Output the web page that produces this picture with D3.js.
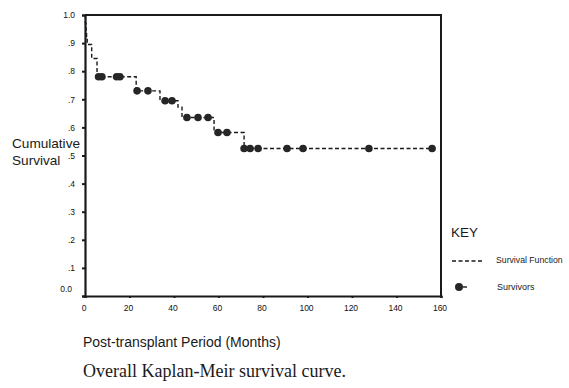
<!DOCTYPE html>
<html>
<head>
<meta charset="utf-8">
<script src="https://cdn.jsdelivr.net/npm/d3@7"></script>
<style>
  html, body { margin: 0; padding: 0; background: #ffffff; }
  svg { display: block; }
  .sans { font-family: "Liberation Sans", Arial, Helvetica, sans-serif; }
  .serif { font-family: "Liberation Serif", "Times New Roman", serif; }
</style>
</head>
<body>
<svg id="chart" width="569" height="388"></svg>
<script>
// ---- Data ----
const stepTimes    = [0, 0.2, 0.45, 0.7, 1.0, 3.0, 5.4, 23.0, 33.7, 41.8, 43.6, 58.0, 71.5, 156.0];
const stepSurvival = [1.0, 0.97, 0.94, 0.92, 0.895, 0.845, 0.78, 0.73, 0.695, 0.672, 0.635, 0.582, 0.525, 0.525];
const censorTimes  = [6.1, 7.6, 14.2, 15.7, 23.4, 28.3, 36.0, 39.1, 45.8, 50.8, 55.3, 59.8, 63.8, 71.5, 74.2, 77.8, 90.8, 98.0, 127.6, 156.0];
const xTicks = [0, 20, 40, 60, 80, 100, 120, 140, 160];
const yTicks = [0, 0.1, 0.2, 0.3, 0.4, 0.5, 0.6, 0.7, 0.8, 0.9, 1.0];
const yTickLabels = ["0.0", ".1", ".2", ".3", ".4", ".5", ".6", ".7", ".8", ".9", "1.0"];
const yTitle = ["Cumulative", "Survival"];
const xTitle = "Post-transplant Period (Months)";
const caption = "Overall Kaplan-Meir survival curve.";
const legendTitle = "KEY";
const legendItems = ["Survival Function", "Survivors"];

// ---- Layout ----
const plot = { left: 85, right: 441, top: 15, bottom: 296 };
const ink = "#1a1a1a";

const svg = d3.select("#chart");
const x = d3.scaleLinear().domain([0, 160]).range([plot.left, plot.right]);
const y = d3.scaleLinear().domain([0, 1]).range([plot.bottom, plot.top]);

// Frame (top and right borders)
svg.append("path")
  .attr("d", `M${plot.left},${plot.top}H${plot.right}V${plot.bottom}`)
  .attr("fill", "none").attr("stroke", ink).attr("stroke-width", 2);

// Left axis
const yAxis = d3.axisLeft(y).tickValues(yTicks)
  .tickFormat((d, i) => yTickLabels[i]).tickSize(3).tickPadding(7);
const gy = svg.append("g").attr("class", "sans")
  .attr("transform", `translate(${plot.left},0)`).call(yAxis);
gy.select(".domain").attr("stroke", ink).attr("stroke-width", 2.2);
gy.selectAll(".tick line").attr("stroke", ink).attr("stroke-width", 2);
gy.selectAll(".tick text").attr("fill", "#111").attr("font-size", 8.5)
  .attr("font-family", "Liberation Sans, Arial, sans-serif");
gy.selectAll(".tick").filter(d => d === 0).select("text")
  .attr("transform", "translate(-3,-7)");

// Bottom axis
const xAxis = d3.axisBottom(x).tickValues(xTicks).tickSize(2).tickPadding(7);
const gx = svg.append("g").attr("class", "sans")
  .attr("transform", `translate(0,${plot.bottom})`).call(xAxis);
gx.select(".domain").attr("stroke", ink).attr("stroke-width", 2.2);
gx.selectAll(".tick line").attr("stroke", ink).attr("stroke-width", 2);
gx.selectAll(".tick text").attr("fill", "#111").attr("font-size", 8.5)
  .attr("font-family", "Liberation Sans, Arial, sans-serif")
  .attr("dx", -1.5);

// Survival step function (dashed)
const stepData = stepTimes.map((t, i) => ({ t, s: stepSurvival[i] }));
const line = d3.line().x(d => x(d.t)).y(d => y(d.s)).curve(d3.curveStepAfter);
svg.append("path").datum(stepData)
  .attr("d", line).attr("fill", "none")
  .attr("stroke", ink).attr("stroke-width", 1.4)
  .attr("stroke-dasharray", "4,2.5");

// Survivors (censored marks), placed on the step function
const survAt = t => stepSurvival[Math.max(0, d3.bisectRight(stepTimes, t) - 1)];
svg.append("g").selectAll("circle").data(censorTimes).join("circle")
  .attr("cx", d => x(d)).attr("cy", d => y(survAt(d)))
  .attr("r", 3.8).attr("fill", "#262626");

// Y title
svg.append("text").attr("class", "sans").attr("x", 12).attr("y", 148)
  .attr("font-size", 13.6).attr("fill", ink).text(yTitle[0]);
svg.append("text").attr("class", "sans").attr("x", 12).attr("y", 165)
  .attr("font-size", 13.6).attr("fill", ink).text(yTitle[1]);

// X title
svg.append("text").attr("class", "sans").attr("x", 83).attr("y", 347)
  .attr("font-size", 14).attr("fill", ink).text(xTitle);

// Caption
svg.append("text").attr("class", "serif").attr("x", 83).attr("y", 377)
  .attr("font-size", 18).attr("fill", ink).text(caption);

// Legend
svg.append("text").attr("class", "sans").attr("x", 451).attr("y", 237)
  .attr("font-size", 13.5).attr("fill", ink).text(legendTitle);
svg.append("line").attr("x1", 452).attr("x2", 482).attr("y1", 261).attr("y2", 261)
  .attr("stroke", ink).attr("stroke-width", 1.4).attr("stroke-dasharray", "4,2.5");
svg.append("text").attr("class", "sans").attr("x", 496).attr("y", 263)
  .attr("font-size", 8.7).attr("fill", ink).text(legendItems[0]);
svg.append("circle").attr("cx", 459).attr("cy", 287).attr("r", 4).attr("fill", "#262626");
svg.append("line").attr("x1", 463).attr("x2", 467).attr("y1", 287).attr("y2", 287)
  .attr("stroke", ink).attr("stroke-width", 1.4);
svg.append("text").attr("class", "sans").attr("x", 497).attr("y", 290)
  .attr("font-size", 9).attr("fill", ink).text(legendItems[1]);
</script>
</body>
</html>
